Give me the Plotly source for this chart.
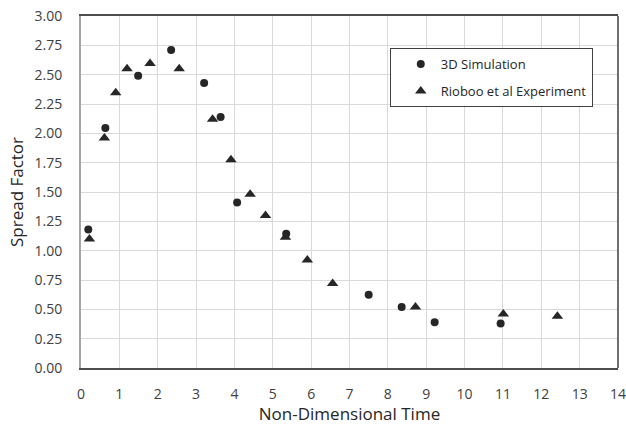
import plotly.graph_objects as go

sim_x = [0.19, 0.635, 1.49, 2.35, 3.21, 3.64, 4.07, 5.35, 7.50, 8.36, 9.22, 10.94]
sim_y = [1.18, 2.045, 2.49, 2.71, 2.43, 2.14, 1.41, 1.145, 0.625, 0.52, 0.39, 0.38]

exp_x = [0.22, 0.61, 0.905, 1.20, 1.80, 2.56, 3.43, 3.91, 4.41, 4.81, 5.33, 5.90, 6.56, 8.72, 11.01, 12.42]
exp_y = [1.10, 1.96, 2.346, 2.55, 2.595, 2.55, 2.12, 1.775, 1.48, 1.30, 1.115, 0.92, 0.72, 0.52, 0.46, 0.44]

x_ticks = list(range(0, 15))
y_ticks = [0, 0.25, 0.5, 0.75, 1.0, 1.25, 1.5, 1.75, 2.0, 2.25, 2.5, 2.75, 3.0]

fig = go.Figure()
fig.add_trace(go.Scatter(x=sim_x, y=sim_y, mode="markers", name="3D Simulation",
                         legendgroup="a",
                         marker=dict(symbol="circle", size=8, color="#262626")))
fig.add_trace(go.Scatter(x=exp_x, y=exp_y, mode="markers", name="Rioboo et al Experiment",
                         legendgroup="b",
                         marker=dict(symbol="triangle-up", size=10, color="#262626")))

font = "Open Sans, Liberation Sans, sans-serif"
fig.update_layout(
    width=626, height=425,
    margin=dict(l=81, r=8, t=16, b=57, autoexpand=False),
    paper_bgcolor="white", plot_bgcolor="white",
    font=dict(family=font, color="#404040", size=14),
    legend=dict(x=0.575, y=0.909, xanchor="left", yanchor="top",
                bordercolor="#404040", borderwidth=1, bgcolor="white",
                font=dict(size=13, color="#262626"),
                tracegroupgap=7, indentation=10, entrywidth=205,
                traceorder="grouped"),
    showlegend=True,
)
fig.update_xaxes(range=[0, 14], tickvals=x_ticks, ticktext=[str(v) for v in x_ticks],
                 showgrid=True, gridcolor="#d9d9d9", gridwidth=1,
                 showline=True, linecolor="#4d4d4d", linewidth=1.5, mirror=True,
                 zeroline=False, ticks="", ticklabelstandoff=12, automargin=False,
                 ticklabeloverflow="allow",
                 title=dict(text="Non-Dimensional Time", font=dict(size=17, color="#262626"), standoff=5),
                 tickfont=dict(size=14, color="#404040"))
fig.update_yaxes(range=[0, 3], tickvals=y_ticks, ticktext=["%.2f" % v for v in y_ticks],
                 showgrid=True, gridcolor="#d9d9d9", gridwidth=1,
                 showline=True, linecolor="#a6a6a6", linewidth=2, mirror=False,
                 zeroline=False, ticks="", ticklabelstandoff=14, automargin=False,
                 ticklabeloverflow="allow",
                 title=dict(text="Spread Factor", font=dict(size=17, color="#262626"), standoff=7),
                 tickfont=dict(size=14, color="#404040"))
fig.add_shape(type="line", xref="paper", yref="paper", x0=1, y0=0, x1=1, y1=1,
              line=dict(color="#404040", width=1.5), layer="above")
fig.write_html("out.html", config={"displayModeBar": False},
               post_script="document.body.style.margin='0';document.body.style.overflow='hidden';")
